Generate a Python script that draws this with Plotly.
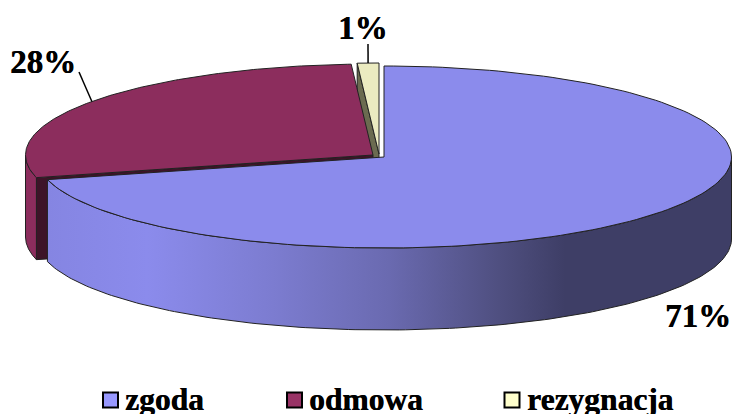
import numpy as np
import plotly.graph_objects as go

categories = ["zgoda", "odmowa", "rezygnacja"]
shares = [71, 28, 1]

# drawing constants (pixel space of the 732x414 figure)
RX, RY, DEPTH = 347.5, 91, 82
centers = {"zgoda": (384, 157), "odmowa": (373, 155), "rezygnacja": (379, 154)}
top_colors = {"zgoda": "#8b8bec", "odmowa": "#8c2d5d", "rezygnacja": "#ebebc0"}
swatch_colors = {"zgoda": "#9999ff", "odmowa": "#993366", "rezygnacja": "#ffffcc"}
swatch_x = {"zgoda": 110.5, "odmowa": 294.5, "rezygnacja": 512}
label_anchor = {"zgoda": (698, 315.5), "odmowa": (42.5, 61.5), "rezygnacja": (363, 27.5)}
leader_end = {"odmowa": (79, 72), "rezygnacja": (368, 44)}
LINE = "#222222"
FONT = "Liberation Serif"
HEAVY = "0.5px 0 0 #000000"

frac = np.cumsum([0] + shares) / sum(shares) * 2 * np.pi
spans = {c: (frac[i], frac[i + 1]) for i, c in enumerate(categories)}


def rim(name, a, b, n=160):
    cx, cy = centers[name]
    t = np.linspace(a, b, n)
    return cx + RX * np.sin(t), cy - RY * np.cos(t)


def poly(x, y, color, line=LINE, width=1, **kw):
    return go.Scatter(x=list(x), y=list(y), mode="lines", fill="toself", fillcolor=color,
                      line=dict(color=line, width=width), hoverinfo="skip", showlegend=False, **kw)


def top_face(name):
    a, b = spans[name]
    x, y = rim(name, a, b)
    cx, cy = centers[name]
    return poly(np.r_[cx, x, cx], np.r_[cy, y, cy], top_colors[name])


def wall(name, a, b, color, **kw):
    x, y = rim(name, a, b)
    return poly(np.r_[x, x[::-1], x[0]], np.r_[y, y[::-1] + DEPTH, y[0]], color, **kw)


def cut_face(name, angle, color):
    x, y = rim(name, angle, angle, 1)
    cx, cy = centers[name]
    return poly([x[0], cx, cx, x[0], x[0]], [y[0], cy, cy + DEPTH, y[0] + DEPTH, y[0]], color)


fig = go.Figure()
# back to front: rezygnacja, odmowa, zgoda
fig.add_trace(cut_face("rezygnacja", spans["rezygnacja"][0], "#6b6b50"))
fig.add_trace(top_face("rezygnacja"))
fig.add_trace(cut_face("odmowa", spans["odmowa"][0], "#3d1428"))
fig.add_trace(wall("odmowa", spans["odmowa"][0], 1.5 * np.pi, "#8c2d5d"))
fig.add_trace(top_face("odmowa"))
fig.add_trace(wall("zgoda", 0.5 * np.pi, spans["zgoda"][1], "#8b8bec",
                   fillgradient=dict(type="horizontal", colorscale=[
                       [0.0, "#8585e2"], [0.146, "#8b8bec"], [0.33, "#7c7cd0"],
                       [0.5, "#6a6ab0"], [0.66, "#4f4f80"], [0.757, "#3e3e66"], [1.0, "#3e3e66"]])))
fig.add_trace(top_face("zgoda"))

# leader lines from the rim at each slice's mid angle
for name in leader_end:
    a, b = spans[name]
    x, y = rim(name, (a + b) / 2, (a + b) / 2, 1)
    ex, ey = leader_end[name]
    fig.add_trace(go.Scatter(x=[ex, x[0]], y=[ey, y[0]], mode="lines",
                             line=dict(color="#000000", width=1.5),
                             hoverinfo="skip", showlegend=False))

# percent labels and legend
for name, v in zip(categories, shares):
    lx, ly = label_anchor[name]
    fig.add_annotation(x=lx, y=ly, text=f"<b>{v}%</b>", showarrow=False, xanchor="center", yanchor="middle",
                       font=dict(family=FONT, size=33, color="#000000", shadow=HEAVY))
    fig.add_trace(go.Scatter(x=[swatch_x[name]], y=[400], mode="markers", cliponaxis=False,
                             marker=dict(symbol="square", size=15, color=swatch_colors[name],
                                         line=dict(color="#000000", width=2)),
                             hoverinfo="skip", showlegend=False))
    fig.add_annotation(x=swatch_x[name] + 16, y=399, text=f"<b>{name}</b>", showarrow=False,
                       xanchor="left", yanchor="middle", xshift=-3.5,
                       font=dict(family=FONT, size=31.5, color="#000000", shadow=HEAVY))

fig.update_layout(
    width=732, height=414, margin=dict(l=0, r=0, t=0, b=0),
    paper_bgcolor="#ffffff", plot_bgcolor="#ffffff", showlegend=False,
    xaxis=dict(range=[0, 732], visible=False, fixedrange=True),
    yaxis=dict(range=[414, 0], visible=False, fixedrange=True),
)
fig.write_html("out.html", config=dict(displayModeBar=False),
               post_script="document.body.style.margin='0';document.documentElement.style.overflow='hidden';")
